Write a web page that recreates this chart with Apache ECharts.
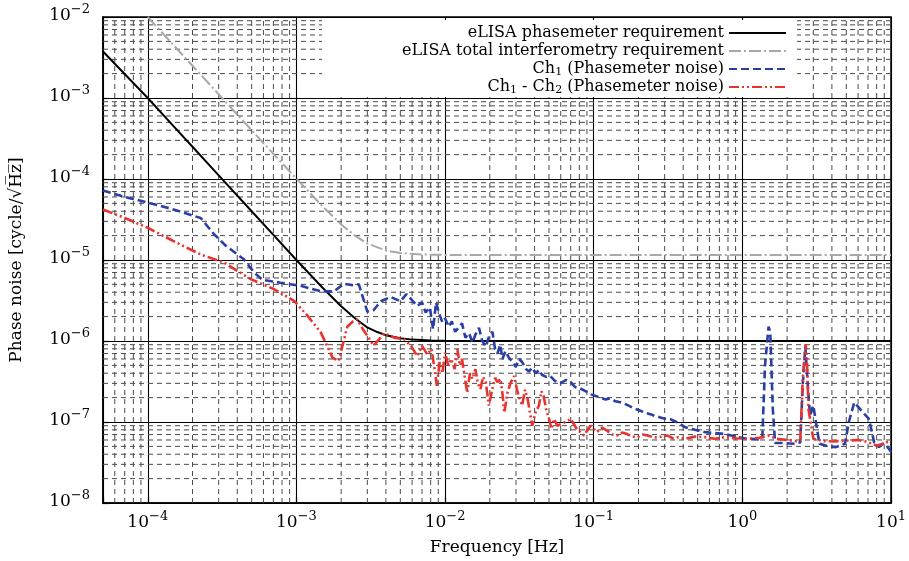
<!DOCTYPE html>
<html><head><meta charset="utf-8">
<script src="https://cdn.jsdelivr.net/npm/echarts@6/dist/echarts.min.js"></script>
<style>html,body{margin:0;padding:0;background:#fff}#c{width:909px;height:561px}</style>
</head><body><div id="c"></div>
<script>
// ---- data (frequency [Hz], phase noise [cycle/sqrt(Hz)]) ----
const seriesNames = [
  'eLISA phasemeter requirement',
  'eLISA total interferometry requirement',
  'Ch1 (Phasemeter noise)',
  'Ch1 - Ch2 (Phasemeter noise)'
];
const phasemeterReq = [[5e-5,3.75e-3],[1e-4,1.0e-3],[1.5e-4,4.44e-4],[2e-4,2.5e-4],[3e-4,1.11e-4],[5e-4,4.0e-5],[7e-4,2.04e-5],[1e-3,1.0e-5],[1.5e-3,4.55e-6],[2e-3,2.69e-6],[2.5e-3,1.88e-6],[3e-3,1.47e-6],[3.5e-3,1.29e-6],[4e-3,1.18e-6],[5e-3,1.08e-6],[6e-3,1.04e-6],[8e-3,1.012e-6],[1e-2,1.005e-6],[2e-2,1.0e-6],[10,1.0e-6]];
const totalIfoReq = [[1.0e-4,1.0e-2],[1.5e-4,4.44e-3],[2e-4,2.5e-3],[3e-4,1.11e-3],[5e-4,4.0e-4],[7e-4,2.04e-4],[1e-3,1.01e-4],[1.5e-3,4.59e-5],[2e-3,2.75e-5],[2.5e-3,1.97e-5],[3e-3,1.6e-5],[4e-3,1.31e-5],[5e-3,1.22e-5],[7e-3,1.17e-5],[1e-2,1.155e-5],[3e-2,1.15e-5],[10,1.15e-5]];
const ch1Noise = [[5.0e-5,7.2e-5],[6.6e-5,6.2e-5],[1.0e-4,5.1e-5],[1.43e-4,4.3e-5],[2.27e-4,3.3e-5],[2.78e-4,2.1e-5],[3.35e-4,1.5e-5],[4.43e-4,1.02e-5],[5.2e-4,7.0e-6],[5.9e-4,5.7e-6],[7.8e-4,5.25e-6],[1.07e-3,4.8e-6],[1.46e-3,4.1e-6],[1.79e-3,4.1e-6],[2.09e-3,5.1e-6],[2.35e-3,4.9e-6],[2.63e-3,5.0e-6],[3.0e-3,2.3e-6],[3.3e-3,2.4e-6],[3.7e-3,3.1e-6],[4.3e-3,3.5e-6],[5.0e-3,3.1e-6],[5.5e-3,3.8e-6],[5.9e-3,3.3e-6],[6.5e-3,2.7e-6],[7.0e-3,3.0e-6],[7.4e-3,2.25e-6],[7.9e-3,2.6e-6],[8.3e-3,1.4e-6],[8.7e-3,3.0e-6],[9.1e-3,2.2e-6],[9.6e-3,1.7e-6],[1.0e-2,1.9e-6],[1.06e-2,1.5e-6],[1.11e-2,1.75e-6],[1.17e-2,1.3e-6],[1.23e-2,1.45e-6],[1.3e-2,1.65e-6],[1.37e-2,1.1e-6],[1.45e-2,1.25e-6],[1.53e-2,9.5e-7],[1.6e-2,1.2e-6],[1.69e-2,1.45e-6],[1.78e-2,1.0e-6],[1.88e-2,8.5e-7],[1.98e-2,1.15e-6],[2.08e-2,1.3e-6],[2.17e-2,8.0e-7],[2.25e-2,7.0e-7],[2.35e-2,9.0e-7],[2.43e-2,6.0e-7],[2.55e-2,7.5e-7],[2.69e-2,6.2e-7],[2.85e-2,5.5e-7],[2.99e-2,4.8e-7],[3.15e-2,6.0e-7],[3.3e-2,5.5e-7],[3.5e-2,4.5e-7],[3.67e-2,4.2e-7],[3.85e-2,4.7e-7],[4.07e-2,4.0e-7],[4.3e-2,4.4e-7],[4.5e-2,3.8e-7],[4.8e-2,3.6e-7],[5.1e-2,3.7e-7],[5.5e-2,3.2e-7],[5.96e-2,3.0e-7],[6.5e-2,3.3e-7],[7.0e-2,3.1e-7],[7.5e-2,2.7e-7],[8.1e-2,2.6e-7],[8.8e-2,2.4e-7],[9.5e-2,2.2e-7],[0.103,2.1e-7],[0.111,2.0e-7],[0.12,1.9e-7],[0.129,1.95e-7],[0.14,1.8e-7],[0.151,1.75e-7],[0.165,1.65e-7],[0.177,1.55e-7],[0.19,1.45e-7],[0.206,1.38e-7],[0.22,1.3e-7],[0.24,1.25e-7],[0.26,1.18e-7],[0.281,1.14e-7],[0.3,1.1e-7],[0.328,1.08e-7],[0.36,1.0e-7],[0.414,8.6e-8],[0.48,8.0e-8],[0.56,7.5e-8],[0.65,7.3e-8],[0.765,7.1e-8],[0.9,6.6e-8],[1.03,6.3e-8],[1.15,6.2e-8],[1.27,6.1e-8],[1.36,6.2e-8],[1.42,5.0e-7],[1.5,1.5e-6],[1.54,1.3e-6],[1.6,1.5e-7],[1.66,5.5e-8],[1.9,5.5e-8],[2.2,5.4e-8],[2.45,5.6e-8],[2.55,3.0e-7],[2.65,8.5e-7],[2.75,3.0e-7],[2.85,1.2e-7],[3.0,1.6e-7],[3.15,9.0e-8],[3.3,5.4e-8],[3.8,5.0e-8],[4.27,4.9e-8],[4.9,5.4e-8],[5.2,1.0e-7],[5.66,1.75e-7],[6.46,1.32e-7],[7.1,1.09e-7],[7.7,5.6e-8],[8.3,4.9e-8],[8.8,5.4e-8],[9.4,5.0e-8],[10,4.3e-8]];
const ch1MinusCh2Noise = [[5.0e-5,4.2e-5],[7.0e-5,3.3e-5],[1.0e-4,2.5e-5],[1.5e-4,1.7e-5],[2.27e-4,1.17e-5],[3.26e-4,9.3e-6],[4.93e-4,5.8e-6],[7.1e-4,4.35e-6],[9.7e-4,3.1e-6],[1.19e-3,2.04e-6],[1.46e-3,1.27e-6],[1.61e-3,8.7e-7],[1.75e-3,6.2e-7],[1.93e-3,5.7e-7],[2.05e-3,9.0e-7],[2.2e-3,1.5e-6],[2.4e-3,1.75e-6],[2.57e-3,1.85e-6],[2.8e-3,1.4e-6],[3.0e-3,1.16e-6],[3.3e-3,8.8e-7],[3.6e-3,1.05e-6],[3.9e-3,1.25e-6],[4.54e-3,1.1e-6],[5.3e-3,1.05e-6],[5.9e-3,8.7e-7],[6.5e-3,6.5e-7],[7.0e-3,8.7e-7],[7.6e-3,6.8e-7],[8.1e-3,8.0e-7],[8.5e-3,4.5e-7],[8.8e-3,2.8e-7],[9.2e-3,5.5e-7],[9.6e-3,4.0e-7],[1.0e-2,7.2e-7],[1.05e-2,5.0e-7],[1.1e-2,6.0e-7],[1.16e-2,4.5e-7],[1.21e-2,7.9e-7],[1.26e-2,5.0e-7],[1.3e-2,6.0e-7],[1.36e-2,3.5e-7],[1.41e-2,2.3e-7],[1.47e-2,4.0e-7],[1.53e-2,3.4e-7],[1.6e-2,4.5e-7],[1.66e-2,3.0e-7],[1.73e-2,2.55e-7],[1.8e-2,3.6e-7],[1.88e-2,3.1e-7],[1.97e-2,1.6e-7],[2.08e-2,2.55e-7],[2.17e-2,3.5e-7],[2.25e-2,3.1e-7],[2.36e-2,3.4e-7],[2.45e-2,2.0e-7],[2.5e-2,1.3e-7],[2.63e-2,2.3e-7],[2.75e-2,3.0e-7],[2.91e-2,3.7e-7],[3.04e-2,2.55e-7],[3.15e-2,2.0e-7],[3.3e-2,1.6e-7],[3.45e-2,2.5e-7],[3.6e-2,1.9e-7],[3.75e-2,1.2e-7],[3.86e-2,9.0e-8],[4.05e-2,1.3e-7],[4.28e-2,1.6e-7],[4.45e-2,2.4e-7],[4.6e-2,2.1e-7],[4.8e-2,1.4e-7],[5.0e-2,1.1e-7],[5.2e-2,8.2e-8],[5.4e-2,1.09e-7],[5.7e-2,9.0e-8],[6.3e-2,9.8e-8],[7.0e-2,1.09e-7],[7.7e-2,8.2e-8],[8.6e-2,6.8e-8],[9.5e-2,9.0e-8],[0.105,7.5e-8],[0.114,8.5e-8],[0.123,7.8e-8],[0.133,7.0e-8],[0.143,6.8e-8],[0.155,7.4e-8],[0.168,7.1e-8],[0.18,6.6e-8],[0.197,6.5e-8],[0.213,7.0e-8],[0.23,6.8e-8],[0.25,6.5e-8],[0.27,6.4e-8],[0.29,6.7e-8],[0.315,6.8e-8],[0.34,6.3e-8],[0.37,6.5e-8],[0.41,6.2e-8],[0.48,6.6e-8],[0.56,6.5e-8],[0.65,6.2e-8],[0.765,6.5e-8],[0.9,6.3e-8],[1.09,6.2e-8],[1.3,6.4e-8],[1.5,6.8e-8],[1.7,6.2e-8],[2.0,6.0e-8],[2.3,5.8e-8],[2.45,6.0e-8],[2.55,3.5e-7],[2.66,9.1e-7],[2.72,6.0e-7],[2.78,1.45e-7],[3.0,6.2e-8],[3.5,5.8e-8],[4.1,5.75e-8],[5.2,5.9e-8],[6.0,6.0e-8],[6.9,5.7e-8],[8.0,5.1e-8],[8.8,5.4e-8],[10,5.9e-8]];

// axis ranges
const xRange = [5e-5, 10];
const yRange = [1e-8, 1e-2];
const minorMultipliers = [2,3,4,5,6,7,8,9];

const FONT = 'DejaVu Serif';

function minorValues(range) {
  const out = [];
  const e0 = Math.floor(Math.log10(range[0])), e1 = Math.ceil(Math.log10(range[1]));
  for (let e = e0; e < e1; e++) {
    minorMultipliers.forEach(m => {
      const v = m * Math.pow(10, e);
      if (v > range[0] * 1.0001 && v < range[1] * 0.9999) out.push(v);
    });
  }
  return out;
}
// minor grid: vertical / horizontal segments spanning the axis range, separated by gaps
const minorXGrid = [];
minorValues(xRange).forEach(v => { minorXGrid.push([v, yRange[0]], [v, yRange[1]], [v, '-']); });
const minorYGrid = [];
minorValues(yRange).forEach(v => { minorYGrid.push([xRange[0], v], [xRange[1], v], [xRange[1], '-']); });

function expLabel(v) {
  const e = Math.log10(v);
  const r = Math.round(e);
  if (Math.abs(e - r) > 1e-6) return '';
  const s = r < 0 ? '\u2212' + Math.abs(r) : String(r);
  return '{b|10}{e|' + s + '}';
}
const labelRich = {
  b: { fontFamily: FONT, fontSize: 17, lineHeight: 21, verticalAlign: 'bottom', color: '#000' },
  e: { fontFamily: FONT, fontSize: 13, lineHeight: 13, verticalAlign: 'top', color: '#000' }
};

const legendLabels = {
  'eLISA phasemeter requirement': '{t|eLISA phasemeter requirement}',
  'eLISA total interferometry requirement': '{t|eLISA total interferometry requirement}',
  'Ch1 (Phasemeter noise)': '{t|Ch}{s|1}{t| (Phasemeter noise)}',
  'Ch1 - Ch2 (Phasemeter noise)': '{t|Ch}{s|1}{t| - Ch}{s|2}{t| (Phasemeter noise)}'
};

const gridLineStyle = { color: '#4a4a4a', width: 1, type: [5, 4] };

const chart = echarts.init(document.getElementById('c'), null, { renderer: 'canvas' });
chart.setOption({
  animation: false,
  backgroundColor: '#fff',
  grid: { left: 102, right: 17, top: 17, bottom: 57, show: true, borderColor: '#000', borderWidth: 1.6, backgroundColor: 'rgba(0,0,0,0)' },
  legend: {
    data: seriesNames,
    orient: 'vertical',
    right: 112,
    top: 20,
    align: 'right',
    itemWidth: 57,
    itemHeight: 14,
    itemGap: 0,
    padding: [4, 10, 1, 80],
    backgroundColor: '#fff',
    selectedMode: false,
    itemStyle: { opacity: 0 },
    formatter: name => legendLabels[name],
    textStyle: {
      fontFamily: FONT, fontSize: 16, color: '#000', lineHeight: 18,
      rich: {
        t: { fontFamily: FONT, fontSize: 16, lineHeight: 18, color: '#000' },
        s: { fontFamily: FONT, fontSize: 11, lineHeight: 11, verticalAlign: 'bottom', color: '#000' }
      }
    }
  },
  xAxis: {
    type: 'log', logBase: 10, min: xRange[0], max: xRange[1],
    axisLine: { show: true, lineStyle: { color: '#000', width: 1.6 } },
    axisTick: { show: true, inside: true, length: 6, lineStyle: { color: '#000', width: 1.2 } },
    axisLabel: { formatter: expLabel, rich: labelRich, margin: 7, color: '#000' },
    splitLine: { show: true, lineStyle: { color: '#000', width: 1.1 } },
    name: 'Frequency [Hz]', nameLocation: 'middle', nameGap: 36,
    nameTextStyle: { fontFamily: FONT, fontSize: 17, color: '#000' }
  },
  yAxis: {
    type: 'log', logBase: 10, min: yRange[0], max: yRange[1],
    axisLine: { show: true, lineStyle: { color: '#000', width: 1.6 } },
    axisTick: { show: true, inside: true, length: 6, lineStyle: { color: '#000', width: 1.2 } },
    axisLabel: { formatter: expLabel, rich: labelRich, margin: 13, color: '#000', padding: [0, 0, 6, 0] },
    splitLine: { show: true, lineStyle: { color: '#000', width: 1.1 } },
    name: 'Phase noise [cycle/\u221AH\u0305z\u0305]', nameLocation: 'middle', nameGap: 78,
    nameTextStyle: { fontFamily: FONT, fontSize: 17, color: '#000' }
  },
  series: [
    {
      type: 'line', data: minorXGrid, silent: true, z: 1, symbol: 'none', connectNulls: false,
      lineStyle: gridLineStyle, emphasis: { disabled: true }
    },
    {
      type: 'line', data: minorYGrid, silent: true, z: 1, symbol: 'none', connectNulls: false,
      lineStyle: gridLineStyle, emphasis: { disabled: true }
    },
    {
      name: seriesNames[0], type: 'line', data: phasemeterReq, symbol: 'none', z: 5, clip: true,
      itemStyle: { color: '#000' },
      lineStyle: { color: '#000', width: 2 }
    },
    {
      name: seriesNames[1], type: 'line', data: totalIfoReq, symbol: 'none', z: 5, clip: true,
      itemStyle: { color: '#a8a8a8' },
      lineStyle: { color: '#a8a8a8', width: 2, type: [12, 3, 2, 3] }
    },
    {
      name: seriesNames[2], type: 'line', data: ch1Noise, symbol: 'none', z: 5, clip: true,
      itemStyle: { color: '#2b3ea6' },
      lineStyle: { color: '#2b3ea6', width: 2.6, type: [8, 4] }
    },
    {
      name: seriesNames[3], type: 'line', data: ch1MinusCh2Noise, symbol: 'none', z: 5, clip: true,
      itemStyle: { color: '#e8332e' },
      lineStyle: { color: '#e8332e', width: 2.6, type: [10, 3, 2, 3, 2, 3] }
    }
  ]
});
</script>
</body></html>
